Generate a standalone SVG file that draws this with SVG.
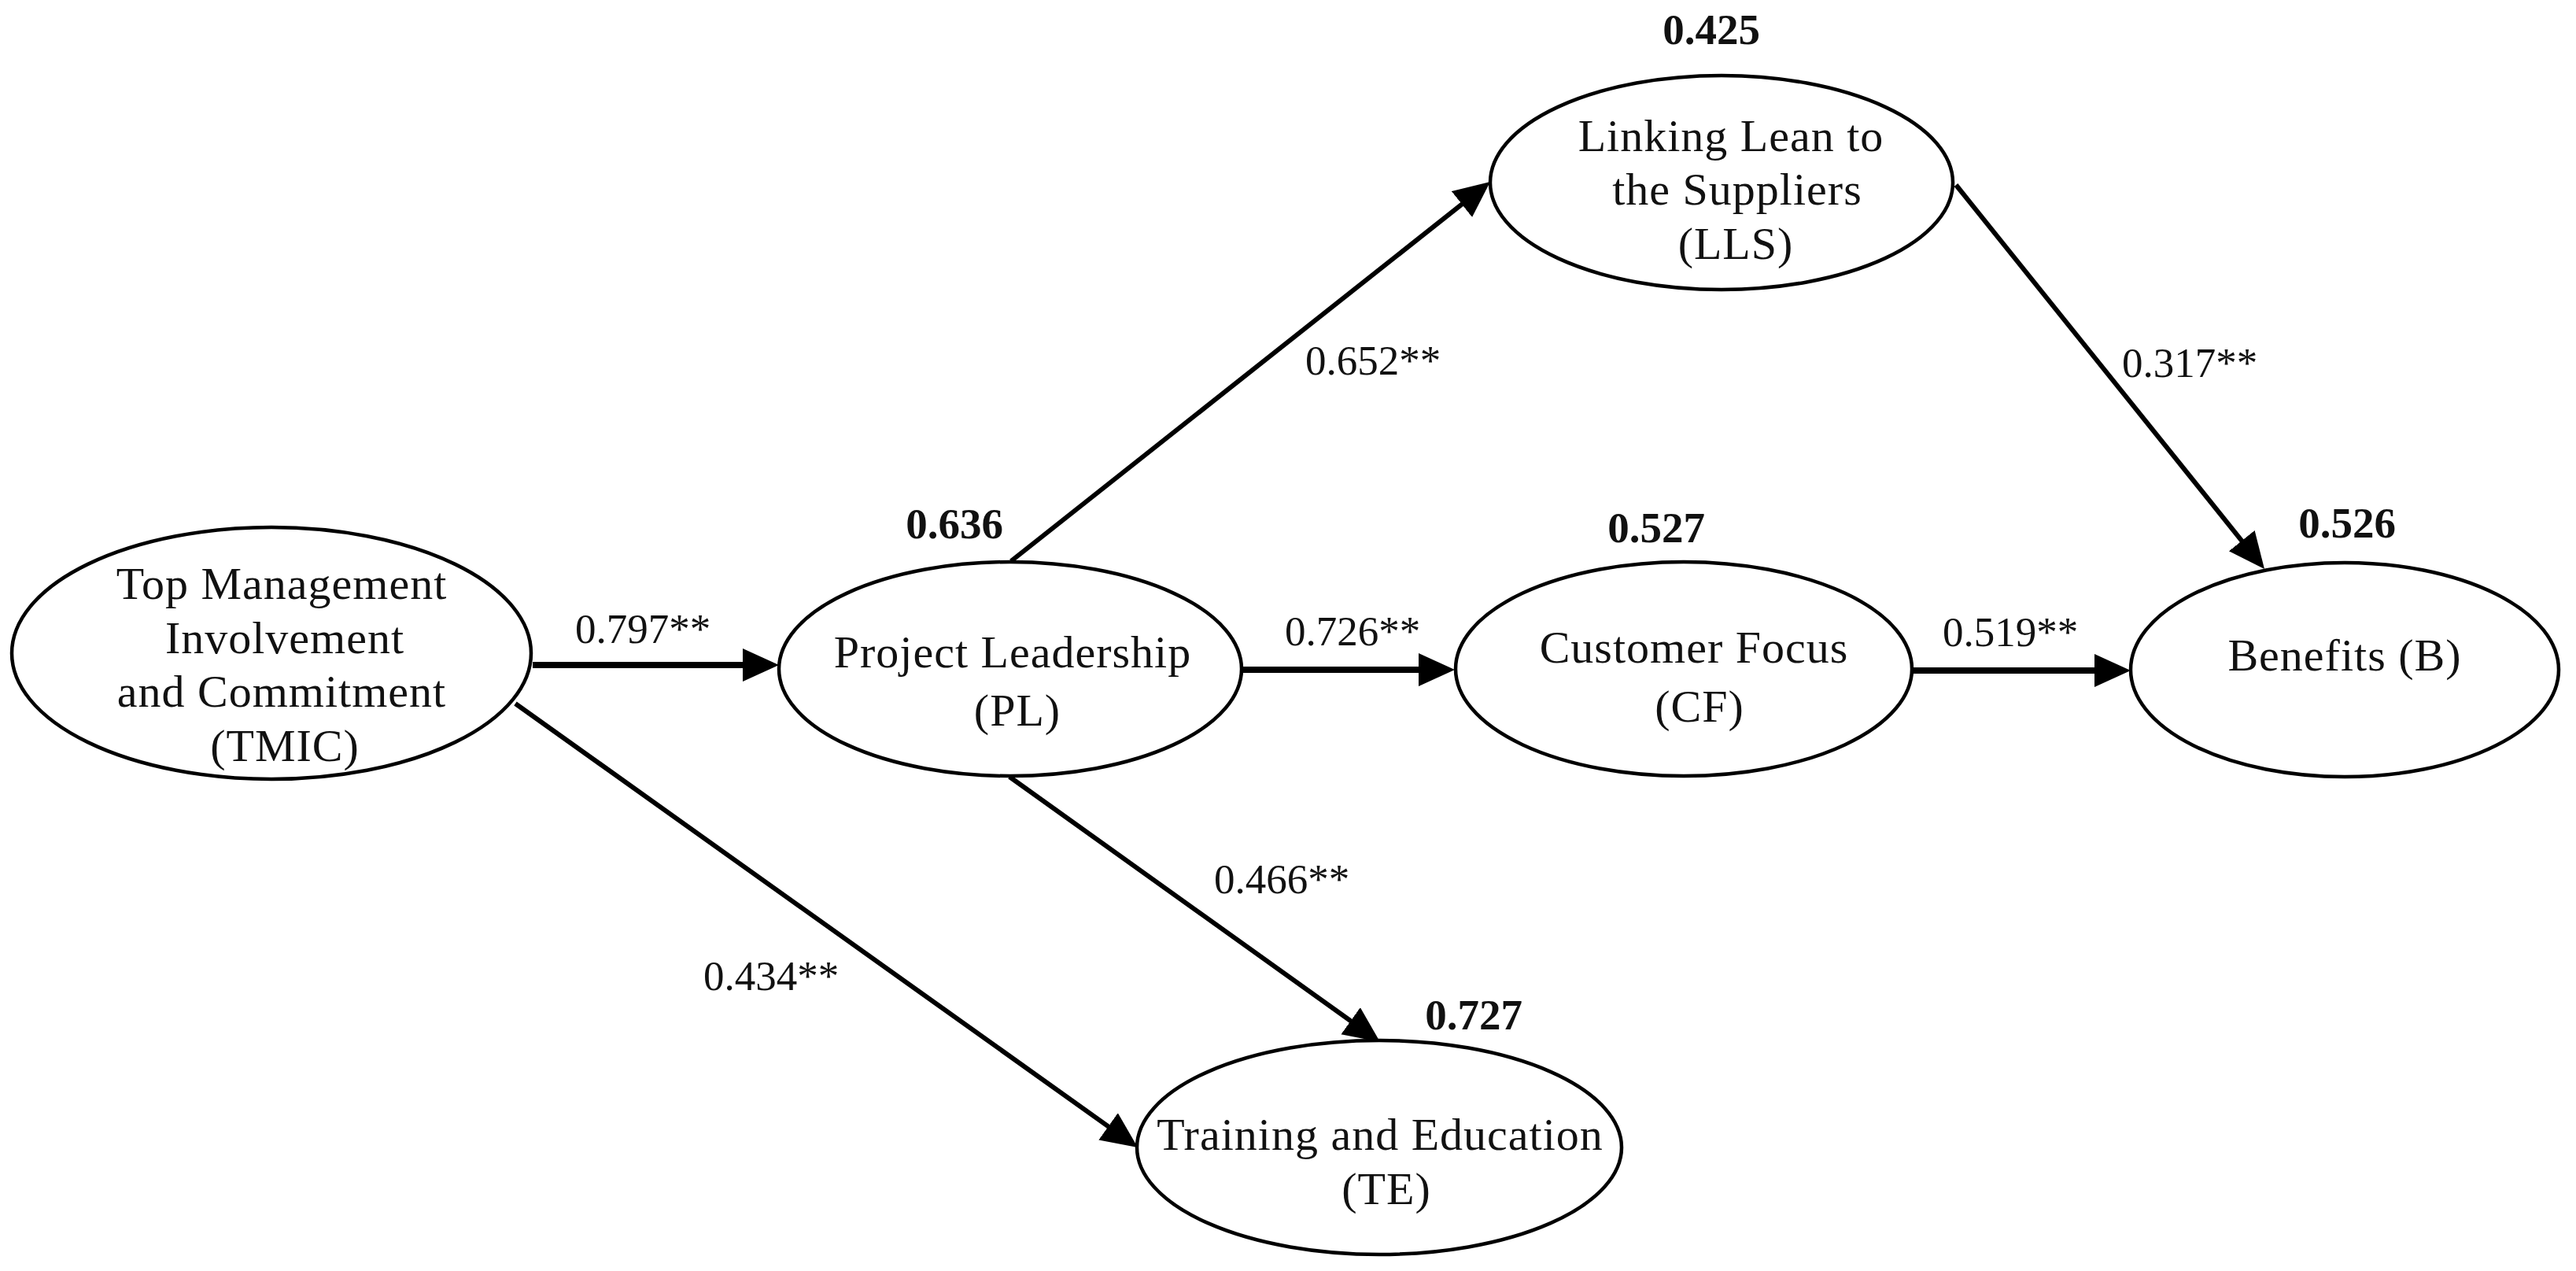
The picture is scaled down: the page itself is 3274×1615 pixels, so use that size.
<svg xmlns="http://www.w3.org/2000/svg" width="3274" height="1615" viewBox="0 0 3274 1615">
<defs>
<style>
.node ellipse{fill:#fff;stroke:#000;stroke-width:4.5}
.nt{font-family:"Liberation Serif","Times New Roman",serif;font-size:58px;letter-spacing:1px;text-anchor:middle;fill:#111}
.el{font-family:"Liberation Serif","Times New Roman",serif;font-size:53px;text-anchor:middle;fill:#111}
.r2{font-family:"Liberation Serif","Times New Roman",serif;font-size:55px;font-weight:bold;text-anchor:middle;fill:#111}
.h{stroke:#000;stroke-width:8;fill:none;marker-end:url(#ah)}
.d{stroke:#000;stroke-width:6;fill:none;marker-end:url(#ah)}
</style>
<marker id="ah" markerUnits="userSpaceOnUse" markerWidth="48" markerHeight="44" refX="22" refY="21" orient="auto" viewBox="0 0 48 44">
<path d="M0,0 L46,21 L0,42 z" fill="#000"/>
</marker>
</defs>
<rect width="3274" height="1615" fill="#fff"/>
<g id="connectors">
<line class="h" x1="677" y1="845" x2="966" y2="845"/>
<line class="h" x1="1578" y1="851" x2="1825" y2="851"/>
<line class="h" x1="2431" y1="852" x2="2684" y2="852"/>
<line class="d" x1="1285" y1="713" x2="1875.2" y2="245.9"/>
<line class="d" x1="2486" y1="235" x2="2863" y2="704.3"/>
<line class="d" x1="1283" y1="987" x2="1734.5" y2="1310"/>
<line class="d" x1="655" y1="894" x2="1426.5" y2="1444.1"/>
</g>
<g id="edge-labels">
<text class="el" x="817" y="817">0.797**</text>
<text class="el" x="980" y="1258">0.434**</text>
<text class="el" x="1719" y="820">0.726**</text>
<text class="el" x="1629" y="1135">0.466**</text>
<text class="el" x="1745" y="476">0.652**</text>
<text class="el" x="2783" y="479">0.317**</text>
<text class="el" x="2555" y="821">0.519**</text>
</g>
<g id="TMIC" class="node">
<ellipse cx="345" cy="830" rx="330" ry="160"/>
<text class="nt" x="358" y="761">Top Management</text>
<text class="nt" x="362" y="830">Involvement</text>
<text class="nt" x="358" y="898">and Commitment</text>
<text class="nt" x="362" y="967">(TMIC)</text>
</g>
<g id="PL" class="node">
<ellipse cx="1284" cy="850" rx="294" ry="136"/>
<text class="nt" x="1287" y="848">Project Leadership</text>
<text class="nt" x="1293" y="922">(PL)</text>
<text class="r2" x="1213" y="684">0.636</text>
</g>
<g id="CF" class="node">
<ellipse cx="2140" cy="850" rx="290" ry="136"/>
<text class="nt" x="2153" y="842">Customer Focus</text>
<text class="nt" x="2160" y="917">(CF)</text>
<text class="r2" x="2105" y="689">0.527</text>
</g>
<g id="B" class="node">
<ellipse cx="2980" cy="851" rx="272" ry="136"/>
<text class="nt" x="2980" y="852">Benefits (B)</text>
<text class="r2" x="2983" y="683">0.526</text>
</g>
<g id="LLS" class="node">
<ellipse cx="2188" cy="232" rx="294" ry="136"/>
<text class="nt" x="2200" y="192">Linking Lean to</text>
<text class="nt" x="2208" y="260">the Suppliers</text>
<text class="nt" x="2206" y="329">(LLS)</text>
<text class="r2" x="2175" y="56">0.425</text>
</g>
<g id="TE" class="node">
<ellipse cx="1753" cy="1458" rx="308" ry="136"/>
<text class="nt" x="1754" y="1461">Training and Education</text>
<text class="nt" x="1762" y="1530">(TE)</text>
<text class="r2" x="1873" y="1308">0.727</text>
</g>
</svg>
